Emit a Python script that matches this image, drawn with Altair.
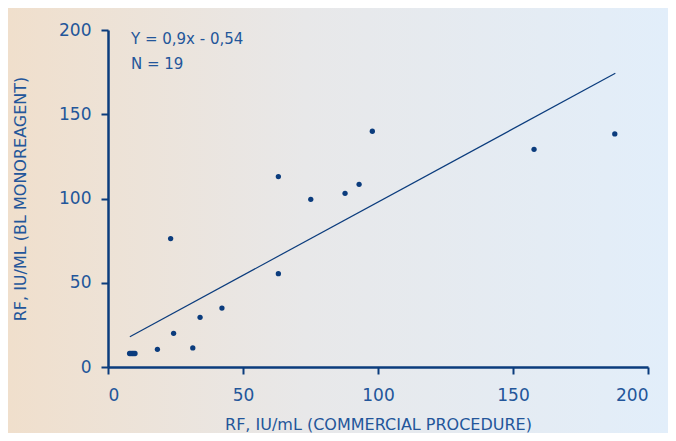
import altair as alt
import pandas as pd

# Scatter data
x_vals = [8, 8.5, 9, 9.5, 10, 18.3, 23.2, 24.3, 31.4, 34.1, 42.2, 63.1, 63.1, 75.1, 87.8, 93.0, 97.9, 157.8, 187.7]
y_vals = [8, 8, 8, 8, 8, 10.5, 76.2, 20.0, 11.3, 29.5, 35.0, 55.4, 113.0, 99.5, 103.1, 108.4, 139.9, 129.2, 138.3]

# Regression line endpoints as drawn
line_x = [8.1, 187.9]
line_y = [18.0, 174.3]

ticks = [0, 50, 100, 150, 200]
annotations = ["Y = 0,9x - 0,54", "N = 19"]

x_title = "RF, IU/mL (COMMERCIAL PROCEDURE)"
y_title = "RF, IU/ML (BL MONOREAGENT)"

NAVY = "#0b3c7d"
TEXT = "#23569a"
FONT = "DejaVu Sans"

W, H = 540, 337

pts = pd.DataFrame({"x": x_vals, "y": y_vals})
ln = pd.DataFrame({"x": line_x, "y": line_y})

xscale = alt.Scale(domain=[0, 200], nice=False)
yscale = alt.Scale(domain=[0, 200], nice=False)

axis_common = dict(
    values=ticks,
    domainColor=NAVY,
    domainWidth=2.5,
    tickColor=NAVY,
    tickWidth=2,
    tickSize=7,
    labelColor=TEXT,
    labelFont=FONT,
    labelFontSize=17,
    titleColor=TEXT,
    titleFont=FONT,
    titleFontSize=16,
    titleFontWeight="normal",
    grid=False,
    zindex=1,
)

bg = alt.Chart(pd.DataFrame({"a": [0]})).mark_rect(
    fill=alt.Gradient(
        gradient="linear",
        stops=[
            alt.GradientStop(color="#f0dfcc", offset=0),
            alt.GradientStop(color="#e8e8e9", offset=0.45),
            alt.GradientStop(color="#e2eefa", offset=1),
        ],
        x1=0, x2=1, y1=0, y2=0,
    )
).encode(
    x=alt.value(-100), x2=alt.value(W + 20), y=alt.value(-22), y2=alt.value(H + 66)
)

points = alt.Chart(pts).mark_circle(size=28, color=NAVY, opacity=1).encode(
    x=alt.X("x:Q", scale=xscale, axis=alt.Axis(title=x_title, labelPadding=13, titlePadding=13, **axis_common)),
    y=alt.Y("y:Q", scale=yscale, axis=alt.Axis(title=y_title, labelPadding=10, titlePadding=30, **axis_common)),
)

line = alt.Chart(ln).mark_line(color=NAVY, strokeWidth=1.2).encode(
    x=alt.X("x:Q", scale=xscale), y=alt.Y("y:Q", scale=yscale)
)

ann1 = alt.Chart(pd.DataFrame({"t": [annotations[0]]})).mark_text(
    align="left", baseline="alphabetic", font=FONT, fontSize=15, color=TEXT
).encode(text="t:N", x=alt.value(23), y=alt.value(14))

ann2 = alt.Chart(pd.DataFrame({"t": [annotations[1]]})).mark_text(
    align="left", baseline="alphabetic", font=FONT, fontSize=15, color=TEXT
).encode(text="t:N", x=alt.value(23), y=alt.value(39))

chart = alt.layer(bg, line, points, ann1, ann2).properties(
    width=W, height=H,
    autosize=alt.AutoSizeParams(type="none"),
    padding={"left": 100, "top": 22, "right": 20, "bottom": 66},
    background="#e8e8e9",
).configure_view(stroke=None)

chart.save("out.html", embed_options={"renderer": "svg", "actions": False})
